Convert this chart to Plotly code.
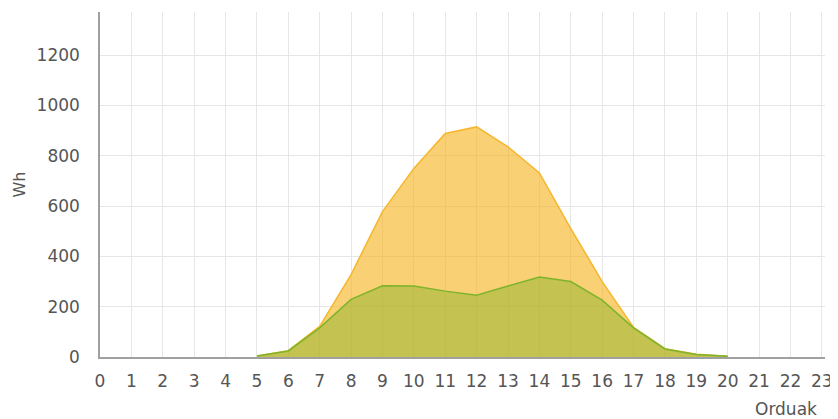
import plotly.graph_objects as go

hours = list(range(24))
produccion = [0, 0, 0, 0, 0, 4, 25, 122, 328, 578, 750, 889, 915, 836, 732, 511, 300, 118, 33, 11, 3, 0, 0, 0]
autoconsumo = [0, 0, 0, 0, 0, 4, 24, 116, 229, 283, 282, 262, 246, 282, 318, 300, 226, 116, 32, 10, 3, 0, 0, 0]
y_ticks = [0, 200, 400, 600, 800, 1000, 1200]

fig = go.Figure()
fig.add_trace(go.Scatter(
    x=hours[5:21], y=produccion[5:21], mode="lines", fill="tozeroy",
    line=dict(color="#F6B62B", width=1.5), fillcolor="rgba(246,183,42,0.65)",
    hoverinfo="x+y", showlegend=False))
fig.add_trace(go.Scatter(
    x=hours[5:21], y=autoconsumo[5:21], mode="lines", fill="tozeroy",
    line=dict(color="#7DB42C", width=1.5), fillcolor="rgba(130,180,40,0.45)",
    hoverinfo="x+y", showlegend=False))

font = dict(family="DejaVu Sans", size=17, color="#555555")
fig.update_layout(
    width=830, height=411,
    margin=dict(l=92, r=13, t=4, b=62),
    paper_bgcolor="white", plot_bgcolor="white",
    font=font,
    xaxis=dict(range=[0, 23.1], tickmode="array", tickvals=hours, ticktext=[str(h) for h in hours],
               showgrid=True, gridcolor="#e6e6e6", gridwidth=1, zeroline=False,
               showline=True, linecolor="#a0a0a0", linewidth=1.5, ticks="", ticklen=0,
               tickfont=font, ticklabelstandoff=8, automargin=False),
    yaxis=dict(range=[0, 1372], tickmode="array", tickvals=y_ticks,
               showgrid=True, gridcolor="#e6e6e6", gridwidth=1, zeroline=False,
               showline=True, linecolor="#a0a0a0", linewidth=1.5, ticks="", ticklen=0,
               tickfont=font, ticklabelstandoff=15, automargin=False),
    annotations=[
        dict(text="Orduak", x=1, y=0, xref="paper", yref="paper",
             xanchor="right", yanchor="middle", xshift=-6, yshift=-52, showarrow=False,
             font=dict(family="DejaVu Sans", size=17, color="#555555")),
        dict(text="Wh", x=0, y=0.5, xref="paper", yref="paper", textangle=-90,
             xanchor="center", yanchor="middle", xshift=-81, showarrow=False,
             font=dict(family="DejaVu Sans", size=16, color="#555555")),
    ],
)
fig.write_html("out.html")
